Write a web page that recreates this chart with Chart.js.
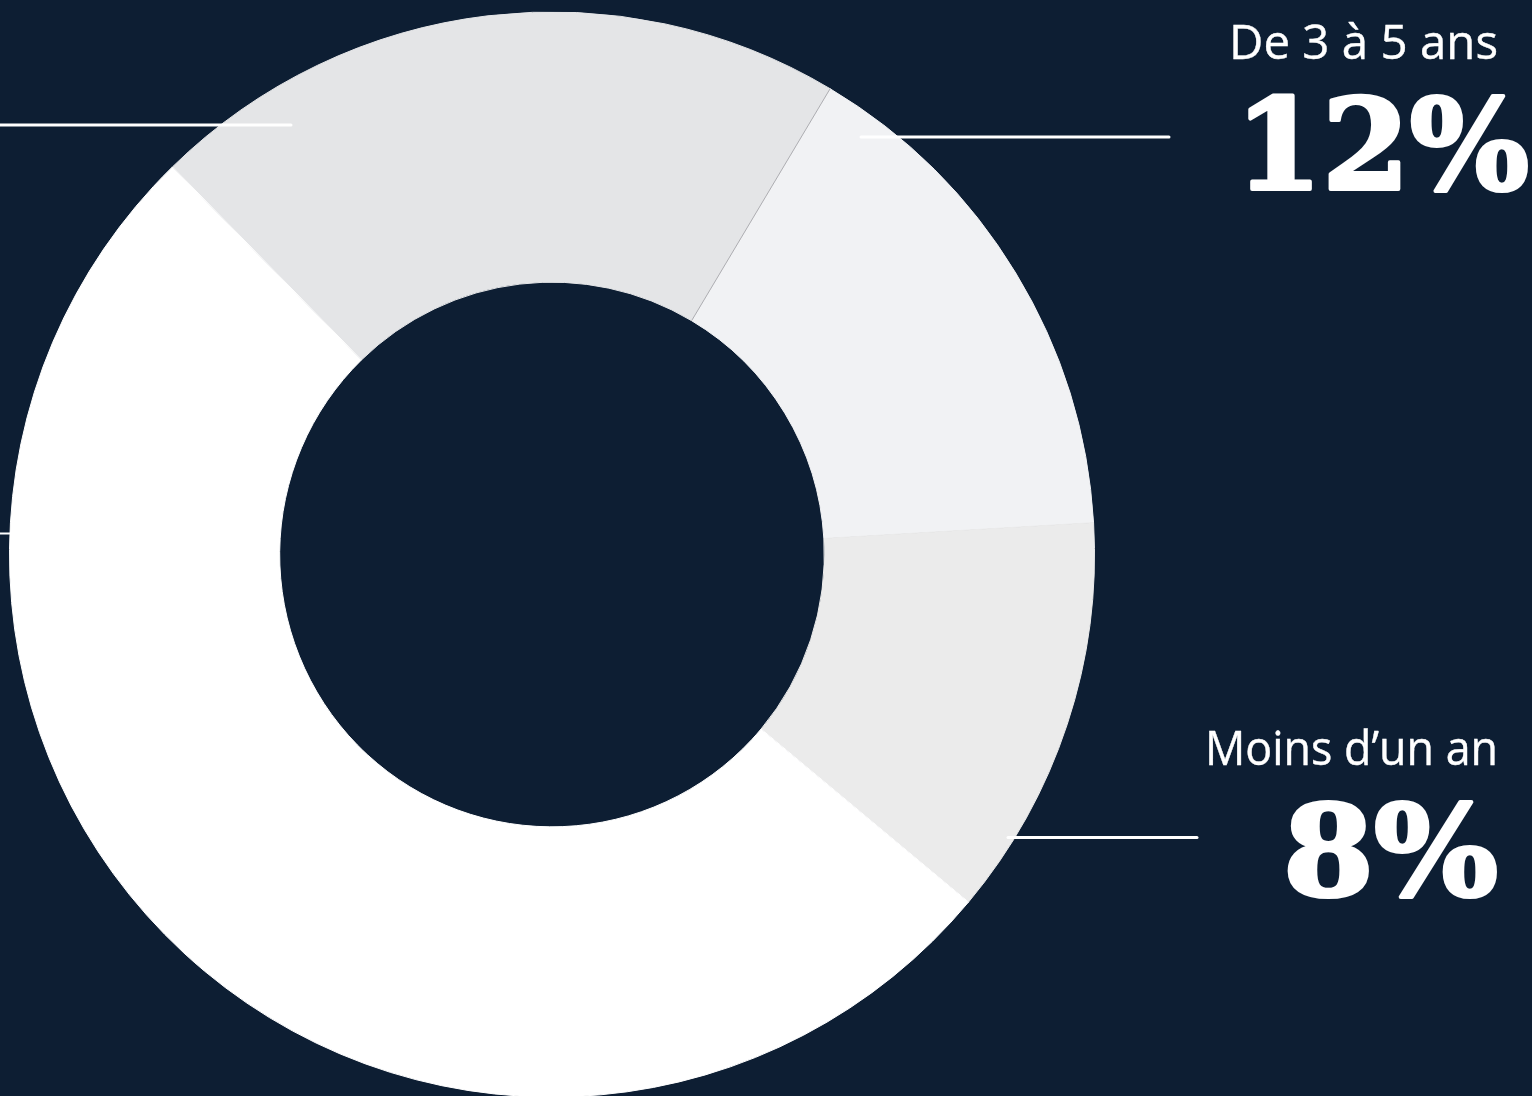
<!DOCTYPE html>
<html>
<head>
<meta charset="utf-8">
<script src="https://cdn.jsdelivr.net/npm/chart.js@4"></script>
<style>
  html, body { margin: 0; padding: 0; }
  body { width: 1532px; height: 1096px; overflow: hidden; background: #0d1e33; position: relative; }
  #c { position: absolute; left: 9px; top: 11px; }
  #overlay { position: absolute; left: 0; top: 0; }
</style>
</head>
<body>
<canvas id="c" width="1086" height="1087"></canvas>
<svg id="overlay" width="1532" height="1096" xmlns="http://www.w3.org/2000/svg"></svg>
<script>
// ---- data ----
const categories = ['Segment hors cadre (haut gauche)', 'De 3 à 5 ans', 'Moins d’un an', 'Segment hors cadre (principal)'];
const sliceShares = [20.9, 15.5, 12.0, 51.6];           // drawn angular shares of the ring
const sliceColors = ['#e4e5e7', '#f1f2f4', '#ebebeb', '#ffffff'];
const calloutTitles = ['De 3 à 5 ans', 'Moins d’un an'];
const calloutValues = ['12%', '8%'];

// ---- layout of callouts (positions only) ----
const calloutLayout = [
  { titleX: 1229, titleY: 59, titleW: 269, valueX: 1235, valueY: 189, valueW: 294 },
  { titleX: 1205, titleY: 765, titleW: 293, valueX: 1283, valueY: 895, valueW: 215 }
];
const leaderLines = [
  { x1: 0, x2: 291, y: 125, w: 3 },
  { x1: 861, x2: 1169, y: 137, w: 3 },
  { x1: 1008, x2: 1197, y: 837.5, w: 3 },
  { x1: 0, x2: 10, y: 533.5, w: 2 }
];

// separator line between first two slices, drawn from the arc geometry
const separatorPlugin = {
  id: 'separator',
  afterDatasetsDraw(chart) {
    const arc = chart.getDatasetMeta(0).data[1];
    if (!arc) return;
    const { x, y, startAngle, innerRadius, outerRadius } = arc.getProps(['x','y','startAngle','innerRadius','outerRadius'], true);
    const ctx = chart.ctx;
    ctx.save();
    ctx.strokeStyle = 'rgba(165,165,170,0.9)';
    ctx.lineWidth = 1;
    ctx.beginPath();
    ctx.moveTo(x + Math.cos(startAngle) * innerRadius, y + Math.sin(startAngle) * innerRadius);
    ctx.lineTo(x + Math.cos(startAngle) * outerRadius, y + Math.sin(startAngle) * outerRadius);
    ctx.stroke();
    ctx.restore();
  }
};

new Chart(document.getElementById('c'), {
  type: 'doughnut',
  data: {
    labels: categories,
    datasets: [{
      data: sliceShares,
      backgroundColor: sliceColors,
      borderColor: sliceColors,
      borderWidth: 1,
      hoverOffset: 0
    }]
  },
  options: {
    responsive: false,
    animation: false,
    rotation: -44.4,
    cutout: '50.2%',
    layout: { padding: 0 },
    events: [],
    plugins: { legend: { display: false }, tooltip: { enabled: false } }
  },
  plugins: [separatorPlugin]
});

// ---- overlay: leader lines and callout text ----
const NS = 'http://www.w3.org/2000/svg';
const svg = document.getElementById('overlay');
leaderLines.forEach(l => {
  const ln = document.createElementNS(NS, 'line');
  ln.setAttribute('x1', l.x1); ln.setAttribute('x2', l.x2);
  ln.setAttribute('y1', l.y); ln.setAttribute('y2', l.y);
  ln.setAttribute('stroke', '#ffffff');
  ln.setAttribute('stroke-width', l.w);
  ln.setAttribute('stroke-linecap', 'round');
  svg.appendChild(ln);
});
calloutTitles.forEach((t, i) => {
  const L = calloutLayout[i];
  const tt = document.createElementNS(NS, 'text');
  tt.setAttribute('x', L.titleX); tt.setAttribute('y', L.titleY);
  tt.setAttribute('textLength', L.titleW);
  tt.setAttribute('lengthAdjust', 'spacingAndGlyphs');
  tt.setAttribute('fill', '#ffffff');
  tt.setAttribute('stroke', '#ffffff');
  tt.setAttribute('stroke-width', '0.4');
  tt.setAttribute('font-family', "'Open Sans', 'Noto Sans', sans-serif");
  tt.setAttribute('font-size', '47');
  tt.textContent = t;
  svg.appendChild(tt);

  const tv = document.createElementNS(NS, 'text');
  tv.setAttribute('x', L.valueX); tv.setAttribute('y', L.valueY);
  tv.setAttribute('textLength', L.valueW);
  tv.setAttribute('lengthAdjust', 'spacingAndGlyphs');
  tv.setAttribute('fill', '#ffffff');
  tv.setAttribute('stroke', '#ffffff');
  tv.setAttribute('stroke-width', '4');
  tv.setAttribute('stroke-linejoin', 'round');
  tv.setAttribute('font-family', "'DejaVu Serif', serif");
  tv.setAttribute('font-weight', 'bold');
  tv.setAttribute('font-size', '126');
  tv.textContent = calloutValues[i];
  svg.appendChild(tv);
});
</script>
</body>
</html>
